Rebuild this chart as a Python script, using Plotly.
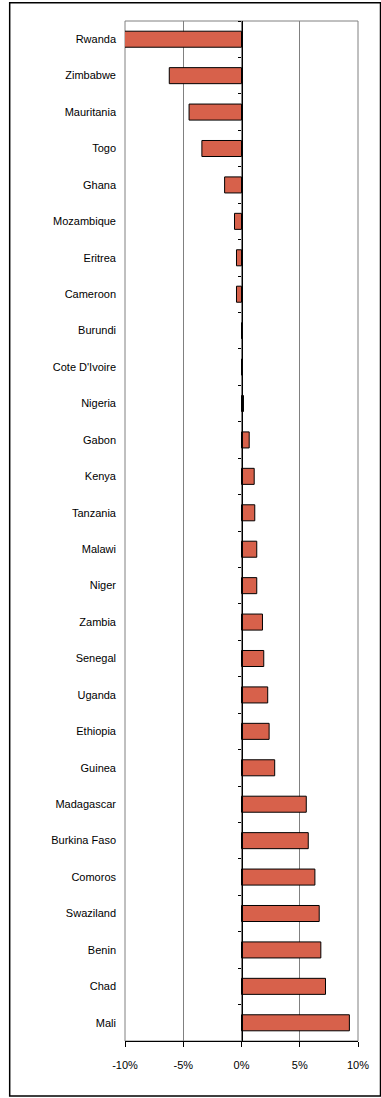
import plotly.graph_objects as go

# Countries, top to bottom
countries = [
    "Rwanda", "Zimbabwe", "Mauritania", "Togo", "Ghana", "Mozambique",
    "Eritrea", "Cameroon", "Burundi", "Cote D'Ivoire", "Nigeria", "Gabon",
    "Kenya", "Tanzania", "Malawi", "Niger", "Zambia", "Senegal", "Uganda",
    "Ethiopia", "Guinea", "Madagascar", "Burkina Faso", "Comoros",
    "Swaziland", "Benin", "Chad", "Mali",
]

# Change in percent
change_pct = [
    -10.3, -6.2, -4.5, -3.4, -1.45, -0.6,
    -0.43, -0.43, 0.0, 0.08, 0.17, 0.66,
    1.09, 1.14, 1.31, 1.31, 1.8, 1.91, 2.25,
    2.37, 2.85, 5.56, 5.73, 6.3,
    6.67, 6.81, 7.21, 9.26,
]

x_tick_vals = [-10, -5, 0, 5, 10]
x_tick_text = ["-10%", "-5%", "0%", "5%", "10%"]

FONT = "Liberation Sans, Arial, sans-serif"
BAR_COLOR = "#D7614B"
GRID = "#808080"

fig = go.Figure()

fig.add_trace(go.Bar(
    y=countries, x=change_pct, orientation="h",
    marker=dict(color=BAR_COLOR, line=dict(color="#000000", width=1)),
    xaxis="x", yaxis="y", hoverinfo="x+y", showlegend=False,
))

# Transparent copy that carries the category axis drawn along the zero line
fig.add_trace(go.Bar(
    y=countries, x=change_pct, orientation="h",
    marker=dict(color="rgba(0,0,0,0)", line=dict(width=0)),
    xaxis="x", yaxis="y2", hoverinfo="skip", showlegend=False,
))

fig.update_layout(
    width=381, height=1098,
    margin=dict(l=125.3, r=20.7, t=21.3, b=57),
    paper_bgcolor="white", plot_bgcolor="white",
    bargap=0.56,
    font=dict(family=FONT, size=11, color="#000000"),
    xaxis=dict(
        range=[-10, 10],
        tickvals=x_tick_vals, ticktext=x_tick_text,
        showgrid=True, gridcolor=GRID, gridwidth=1,
        zeroline=False,
        showline=True, linecolor="#000000", linewidth=1,
        ticks="outside", ticklen=5, tickcolor="#000000", tickwidth=1,
        ticklabelstandoff=9,
        tickfont=dict(family=FONT, size=11),
        fixedrange=True,
    ),
    yaxis=dict(
        categoryorder="array", categoryarray=countries,
        autorange="reversed",
        showgrid=False, zeroline=False, showline=False,
        ticks="", ticklabelstandoff=8,
        tickfont=dict(family=FONT, size=11),
        fixedrange=True,
    ),
    yaxis2=dict(
        categoryorder="array", categoryarray=countries,
        autorange="reversed",
        overlaying="y", anchor="free", position=0.5,
        showgrid=False, zeroline=False,
        showline=True, linecolor="#000000", linewidth=1.2,
        ticks="outside", tickson="boundaries", ticklen=3,
        tickcolor="#000000", tickwidth=1,
        showticklabels=False,
        fixedrange=True,
    ),
    shapes=[
        # plot-area border
        dict(type="rect", xref="paper", yref="paper", x0=0, x1=1, y0=0, y1=1,
             line=dict(color=GRID, width=1), layer="below"),
        # outer chart frame
        dict(type="rect", xref="paper", yref="paper",
             x0=-0.4949, x1=1.0966, y0=-0.0539, y1=1.0179,
             line=dict(color="#000000", width=1.5), layer="above"),
    ],
)

fig.write_html("out.html")
